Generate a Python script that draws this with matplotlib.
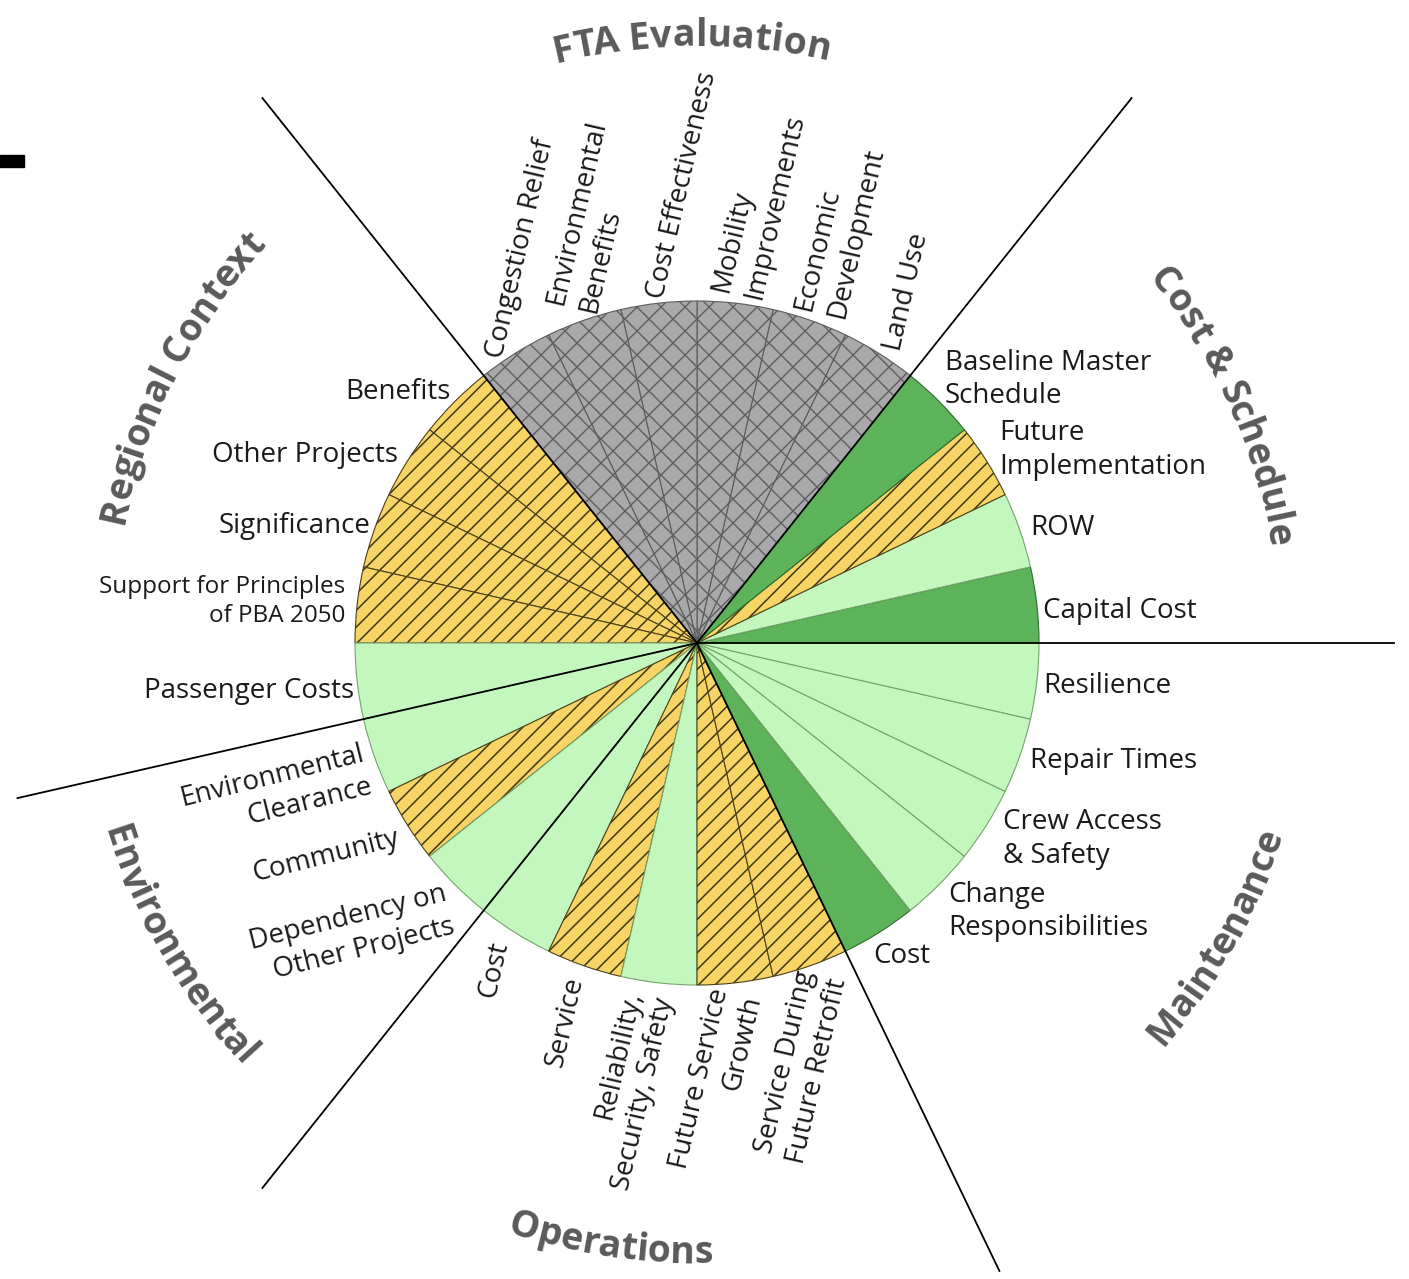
import numpy as np
import matplotlib
matplotlib.use("Agg")
import matplotlib.pyplot as plt
from matplotlib.patches import Wedge, Rectangle
from matplotlib.collections import LineCollection
from matplotlib.textpath import TextToPath
from matplotlib.font_manager import FontProperties

plt.rcParams['font.family'] = ['Open Sans', 'DejaVu Sans']
plt.rcParams['hatch.linewidth'] = 1.1

# ---- data ----
sections = ["Cost & Schedule", "FTA Evaluation", "Regional Context",
            "Environmental", "Operations", "Maintenance"]
section_sizes = [4, 6, 5, 3, 5, 5]
# criteria listed counter-clockwise starting at 3 o'clock
criteria = ["Capital Cost", "ROW", "Future\nImplementation", "Baseline Master\nSchedule",
            "Land Use", "Economic\nDevelopment", "Mobility\nImprovements",
            "Cost Effectiveness", "Environmental\nBenefits", "Congestion Relief",
            "Benefits", "Other Projects", "Significance",
            "Support for Principles\nof PBA 2050", "Passenger Costs",
            "Environmental\nClearance", "Community", "Dependency on\nOther Projects",
            "Cost", "Service", "Reliability,\nSecurity, Safety", "Future Service\nGrowth",
            "Service During\nFuture Retrofit",
            "Cost", "Change\nResponsibilities", "Crew Access\n& Safety", "Repair Times",
            "Resilience"]
ratings = ["dark", "light", "hatch", "dark",
           "gray", "gray", "gray", "gray", "gray", "gray",
           "hatch", "hatch", "hatch", "hatch", "light",
           "light", "hatch", "light",
           "light", "hatch", "light", "hatch", "hatch",
           "dark", "light", "light", "light", "light"]

# ---- styles ----
fill = {"dark": "#5db35a", "light": "#c4f7be", "hatch": "#f6d566", "gray": "#a9a9ab"}
hatch = {"hatch": "//"}
hatch_col = {"hatch": "#3f3614"}
edge = {"dark": "#2f6e2d", "light": "#74a46c", "hatch": "#4a4018", "gray": "#5a5a5a"}

W, H = 1409, 1279
fig = plt.figure(figsize=(W / 100, H / 100), dpi=100)
ax = fig.add_axes([0, 0, 1, 1])
ax.set_xlim(0, W)
ax.set_ylim(0, H)
ax.set_aspect('equal')
ax.axis('off')

cx, cy = 697, H - 643
R = 342
n = len(criteria)
step = 360.0 / n

for i, rt in enumerate(ratings):
    t1, t2 = i * step, (i + 1) * step
    ax.add_patch(Wedge((cx, cy), R, t1, t2, facecolor=fill[rt], edgecolor='none', lw=0))
    if rt in hatch:
        ax.add_patch(Wedge((cx, cy), R, t1, t2, facecolor='none',
                           edgecolor=hatch_col[rt], hatch=hatch[rt], lw=0))
    if rt == "gray":
        # cross-hatch drawn by hand for a wider spacing
        clip = Wedge((cx, cy), R, t1, t2, transform=ax.transData)
        segs = []
        for c in np.arange(-2 * R, 2 * R, 24):
            segs.append([(cx + c - R, cy - R), (cx + c + R, cy + R)])
            segs.append([(cx + c - R, cy + R), (cx + c + R, cy - R)])
        lc = LineCollection(segs, colors='#5e5e5e', linewidths=1.0)
        ax.add_collection(lc)
        lc.set_clip_path(clip)
    ax.add_patch(Wedge((cx, cy), R, t1, t2, facecolor='none', edgecolor=edge[rt], lw=0.8))

# section divider lines
bounds = np.cumsum([0] + section_sizes[:-1])
for b in bounds:
    a = np.radians(b * step)
    ax.plot([cx, cx + 697 * np.cos(a)], [cy, cy + 697 * np.sin(a)], color='black', lw=1.3)

# ---- criterion labels ----
# nudges in image pixels (right, down)
nudges = [(6, 6), (10, -2), (13, -11), (6, -22),
          (14, -3), (10, -6), (2, -8), (-3, -5), (-12, -12), (-20, 4),
          (-5, -9), (-9, -6), (-4, -4), (-12, -3), (-3, 10),
          (-6, 14), (-9, 13), (-5, 25),
          (-15, 9), (-9, 11), (-9, 12), (2, 10), (13, 9),
          (-6, 23), (9, 27), (16, 14), (10, 5), (6, 5)]
sec_idx = np.repeat(np.arange(len(sections)), section_sizes)
for i, lab in enumerate(criteria):
    a = np.radians((i + 0.5) * step)
    x = cx + R * np.cos(a) + nudges[i][0]
    y = cy + R * np.sin(a) - nudges[i][1]
    sec = sections[sec_idx[i]]
    size = 17.5 if lab.startswith("Support") else 20
    if sec == "FTA Evaluation":
        rot, ha = 77, 'left'
    elif sec == "Operations":
        rot, ha = 77, 'right'
    elif sec == "Environmental":
        rot, ha = 14, 'right'
    else:
        rot, ha = 0, ('left' if np.cos(a) > 0 else 'right')
    ax.text(x, y, lab, rotation=rot, rotation_mode='anchor', ha=ha, va='center',
            multialignment=ha, fontsize=size, color='#1a1a1a', linespacing=1.25)

# ---- curved section titles ----
t2p = TextToPath()
fp = FontProperties(family='Open Sans', weight='bold', size=27)


def tw(t):
    return t2p.get_text_width_height_descent(t, fp, ismath=False)[0] * 100 / 72


title_layout = {"FTA Evaluation": (90.5, 597, True),
                "Regional Context": (152.8, 586, True),
                "Cost & Schedule": (24.2, 580, True),
                "Maintenance": (330.5, 616, False),
                "Operations": (261.8, 620, False),
                "Environmental": (210.2, 622, False)}
for name in sections:
    ang, rad, top = title_layout[name]
    total = tw(name)
    for i, ch in enumerate(name):
        if ch == ' ':
            continue
        mid = tw(name[:i + 1]) - tw(ch) / 2
        if top:
            a = np.radians(ang) + total / 2 / rad - mid / rad
            rot = np.degrees(a) - 90
        else:
            a = np.radians(ang) - total / 2 / rad + mid / rad
            rot = np.degrees(a) + 90
        ax.text(cx + rad * np.cos(a), cy + rad * np.sin(a), ch, fontproperties=fp,
                rotation=rot, rotation_mode='anchor', ha='center', va='baseline',
                color='#5a5a5a')

ax.add_patch(Rectangle((0, H - 167), 24, 12, color='black'))

fig.savefig("out.png", dpi=100)
